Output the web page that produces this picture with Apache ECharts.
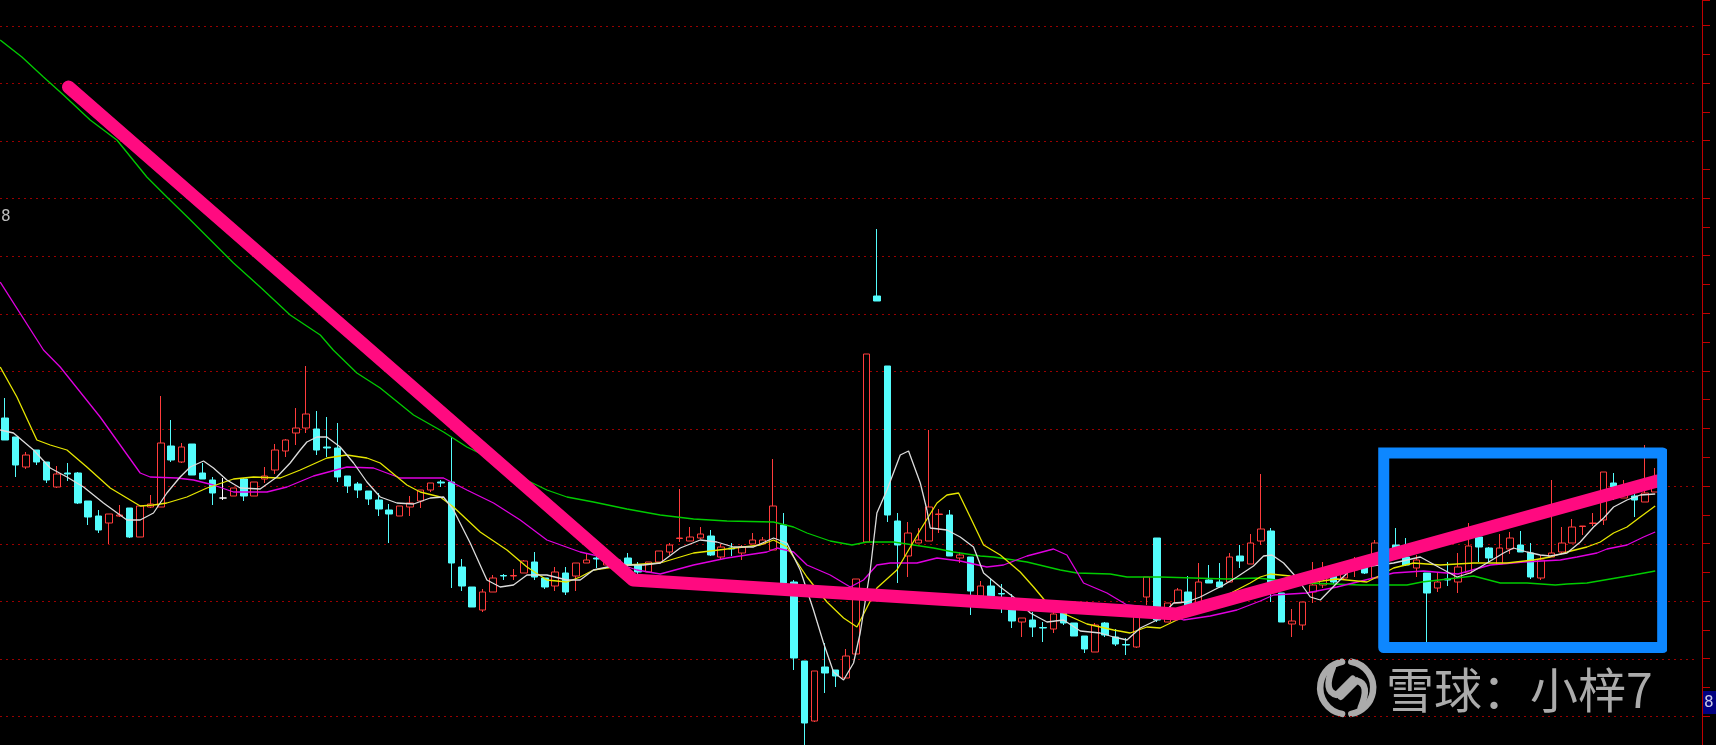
<!DOCTYPE html>
<html><head><meta charset="utf-8">
<script src="https://cdn.jsdelivr.net/npm/echarts@6/dist/echarts.min.js"></script>
<style>html,body{margin:0;padding:0;background:#000;overflow:hidden;}#c{width:1716px;height:745px;}</style>
</head><body><div id="c"></div>
<script>
// [open, close, low, high]
const candles = [
[7.82,7.60,7.60,8.02],[7.63,7.35,7.23,7.63],[7.33,7.45,7.31,7.48],[7.50,7.38,7.35,7.50],[7.38,7.20,7.17,7.38],
[7.13,7.26,7.12,7.34],[7.27,7.26,7.19,7.37],[7.27,6.97,6.96,7.28],[6.99,6.83,6.75,6.99],[6.84,6.70,6.67,6.90],
[6.77,6.86,6.56,6.86],[6.84,6.85,6.83,6.95],[6.92,6.63,6.62,6.92],[6.63,6.94,6.63,6.94],[6.93,6.96,6.92,7.05],
[6.93,7.57,6.93,8.04],[7.54,7.40,7.38,7.80],[7.38,7.53,7.37,7.57],[7.56,7.25,7.25,7.56],[7.27,7.21,7.21,7.37],
[7.20,7.07,6.95,7.23],[7.02,7.02,7.00,7.22],[7.04,7.12,7.04,7.12],[7.21,7.04,6.99,7.22],[7.04,7.18,7.04,7.18],
[7.21,7.24,7.17,7.33],[7.30,7.50,7.26,7.56],[7.49,7.60,7.43,7.61],[7.67,7.72,7.55,7.92],[7.72,7.86,7.67,8.34],
[7.71,7.50,7.45,7.89],[7.53,7.52,7.43,7.83],[7.52,7.23,7.18,7.77],[7.24,7.14,7.07,7.24],[7.16,7.10,7.02,7.18],
[7.09,7.01,6.95,7.09],[7.00,6.91,6.84,7.07],[6.90,6.86,6.57,6.96],[6.84,6.94,6.84,6.94],[6.93,6.97,6.84,7.04],
[6.99,7.10,6.92,7.10],[7.10,7.17,7.08,7.17],[7.18,7.17,7.13,7.20],[7.18,6.37,6.12,7.63],[6.33,6.14,6.09,6.41],
[6.13,5.93,5.93,6.13],[5.90,6.08,5.88,6.11],[6.08,6.22,6.08,6.25],[6.245,6.24,6.20,6.26],[6.24,6.245,6.20,6.31],
[6.27,6.39,6.27,6.40],[6.38,6.23,6.20,6.48],[6.22,6.13,6.11,6.22],[6.14,6.28,6.09,6.33],[6.27,6.08,6.05,6.33],
[6.24,6.37,6.09,6.37],[6.37,6.40,6.37,6.46],[6.42,6.41,6.32,6.47],[6.35,6.42,6.35,6.42],[6.40,6.35,6.33,6.42],
[6.42,6.35,6.33,6.47],[6.35,6.28,6.26,6.38],[6.28,6.38,6.28,6.38],[6.38,6.49,6.38,6.49],[6.48,6.55,6.45,6.57],
[6.615,6.62,6.58,7.11],[6.59,6.63,6.59,6.73],[6.62,6.66,6.61,6.73],[6.64,6.45,6.44,6.70],[6.43,6.53,6.40,6.56],
[6.52,6.51,6.44,6.57],[6.47,6.53,6.40,6.55],[6.56,6.60,6.56,6.67],[6.56,6.60,6.55,6.63],[6.50,6.94,6.50,7.41],
[6.75,6.17,6.10,6.87],[6.18,5.42,5.30,6.20],[5.39,4.77,4.54,5.39],[4.79,5.29,4.78,5.29],[5.33,5.27,5.07,5.57],
[5.30,5.24,5.13,5.30],[5.22,5.44,5.22,5.51],[5.46,6.21,5.46,6.21],[6.58,8.46,6.58,8.46],[9.04,8.99,8.99,9.71],
[8.34,6.85,6.78,8.34],[6.79,6.55,6.17,6.87],[6.44,6.67,6.23,6.78],[6.57,6.60,6.57,6.72],[6.59,6.93,6.59,7.70],
[6.855,6.86,6.67,6.91],[6.85,6.44,6.44,6.90],[6.42,6.45,6.37,6.48],[6.43,6.09,5.85,6.43],[6.04,6.14,6.04,6.19],
[6.14,6.04,6.04,6.22],[6.065,6.06,5.87,6.16],[5.91,5.79,5.72,6.06],[5.78,5.82,5.63,5.82],[5.80,5.73,5.63,5.88],
[5.725,5.72,5.58,5.78],[5.71,5.86,5.67,5.88],[5.87,5.77,5.75,5.88],[5.77,5.64,5.64,5.77],[5.64,5.51,5.47,5.64],
[5.48,5.75,5.48,5.77],[5.77,5.65,5.63,5.78],[5.63,5.56,5.54,5.71],[5.555,5.55,5.45,5.62],[5.53,5.85,5.52,5.85],
[6.03,6.23,5.95,6.23],[6.62,5.80,5.78,6.62],[5.78,5.97,5.78,5.97],[5.97,6.10,5.97,6.12],[6.08,5.93,5.92,6.24],
[5.95,6.18,5.95,6.37],[6.20,6.17,6.17,6.35],[6.18,6.13,6.12,6.37],[6.18,6.43,6.18,6.47],[6.44,6.39,6.32,6.55],
[6.36,6.57,6.36,6.66],[6.59,6.71,6.55,7.26],[6.69,6.17,5.98,6.72],[6.07,5.78,5.78,6.07],[5.76,5.79,5.63,5.91],
[5.75,5.98,5.70,5.98],[6.08,6.15,5.97,6.38],[6.15,6.22,6.12,6.38],[6.24,6.18,6.16,6.26],[6.22,6.30,6.20,6.32],
[6.30,6.38,6.23,6.43],[6.33,6.27,6.26,6.43],[6.22,6.57,6.22,6.60],[6.52,6.60,6.50,6.64],[6.55,6.47,6.44,6.72],
[6.43,6.35,6.34,6.62],[6.32,6.40,6.23,6.45],[6.27,6.07,5.58,6.27],[6.12,6.18,6.08,6.27],[6.21,6.20,6.14,6.38],
[6.18,6.33,6.07,6.47],[6.27,6.54,6.27,6.77],[6.63,6.53,6.38,6.63],[6.52,6.42,6.37,6.53],[6.36,6.52,6.36,6.66],
[6.51,6.62,6.46,6.68],[6.55,6.48,6.48,6.69],[6.47,6.23,6.21,6.57],[6.22,6.40,6.20,6.45],[6.43,6.47,6.43,7.20],
[6.48,6.57,6.47,6.73],[6.57,6.73,6.57,6.81],[6.735,6.74,6.65,6.74],[6.765,6.77,6.74,6.87],[6.80,7.28,6.75,7.28],
[7.17,7.13,7.00,7.27],[7.02,7.07,7.02,7.20],[7.04,7.00,6.83,7.19],[6.98,7.07,6.98,7.55],[7.08,7.13,7.08,7.32]
];
const categories = candles.map((_, i) => 'D' + (i + 1));

// moving-average lines: [bar position, price]
const maWhite = [[-0.48,7.70],[0.8,7.67],[2.73,7.50],[4.34,7.32],[5.95,7.23],[7.55,7.13],[9.47,6.97],[11.73,6.80],[13.01,6.80],[14.29,6.87],[15.58,7.07],[16.86,7.23],[17.83,7.33],[19.11,7.39],[20.07,7.32],[21.36,7.20],[22.65,7.12],[24.57,7.11],[26.18,7.23],[27.46,7.37],[28.43,7.50],[29.07,7.58],[30.04,7.63],[31.0,7.63],[32.28,7.53],[33.57,7.37],[34.86,7.18],[36.14,7.03],[37.75,6.97],[39.35,6.96],[40.96,7.02],[42.24,7.03],[43.2,6.90],[44.81,6.57],[46.42,6.20],[47.7,6.13],[48.98,6.15],[50.28,6.25],[52.2,6.25],[54.13,6.20],[55.41,6.20],[56.69,6.30],[58.95,6.35],[61.51,6.35],[63.12,6.37],[65.05,6.52],[66.98,6.60],[68.58,6.58],[70.18,6.53],[72.11,6.53],[74.04,6.62],[75.33,6.57],[76.61,6.30],[77.89,5.90],[78.86,5.57],[79.82,5.28],[80.79,5.20],[81.75,5.37],[82.39,5.67],[83.36,6.30],[84.0,6.87],[84.97,7.10],[86.25,7.45],[87.05,7.49],[88.18,7.17],[88.82,6.90],[89.14,6.72],[90.75,6.70],[92.03,6.63],[93.31,6.53],[94.28,6.27],[95.89,6.13],[97.17,6.03],[98.78,5.87],[100.39,5.78],[101.98,5.80],[103.6,5.69],[105.52,5.67],[106.81,5.63],[108.1,5.60],[109.38,5.72],[110.99,5.80],[112.59,5.97],[113.87,5.98],[115.16,6.03],[117.41,6.15],[118.69,6.23],[120.29,6.34],[121.26,6.44],[122.07,6.45],[123.19,6.37],[124.48,6.22],[125.76,6.03],[126.73,6.00],[128.33,6.17],[129.62,6.30],[130.9,6.33],[133.79,6.37],[136.36,6.43],[138.29,6.32],[139.9,6.23],[141.18,6.27],[142.79,6.37],[144.39,6.47],[145.35,6.52],[146.64,6.48],[147.92,6.45],[148.89,6.44],[150.5,6.47],[151.78,6.58],[153.06,6.73],[154.03,6.82],[154.99,6.93],[156.28,7.00],[157.56,7.05],[159.0,7.06]];

const maYellow = [[-0.48,8.33],[1.13,8.03],[3.05,7.60],[4.34,7.55],[5.95,7.50],[7.87,7.33],[10.12,7.12],[13.01,6.94],[14.29,6.95],[15.58,6.97],[17.51,7.03],[19.44,7.12],[22.0,7.21],[23.93,7.23],[26.5,7.22],[28.43,7.30],[31.0,7.42],[32.93,7.45],[34.86,7.42],[36.14,7.37],[38.71,7.15],[39.99,7.08],[41.92,7.03],[43.2,6.93],[45.77,6.68],[48.35,6.50],[50.28,6.33],[52.2,6.20],[54.13,6.18],[55.41,6.23],[56.69,6.30],[59.91,6.35],[63.12,6.37],[66.33,6.47],[69.55,6.51],[72.76,6.55],[74.04,6.60],[75.33,6.53],[77.26,6.23],[79.19,5.98],[80.79,5.82],[82.08,5.73],[84.0,6.12],[85.93,6.30],[88.18,6.70],[89.79,6.97],[90.75,7.05],[91.87,7.07],[92.99,6.83],[94.28,6.55],[95.89,6.45],[97.81,6.28],[99.1,6.13],[100.39,5.97],[102.31,5.85],[104.24,5.76],[106.81,5.70],[108.41,5.67],[110.02,5.73],[111.3,5.72],[112.91,5.80],[115.16,5.90],[117.73,6.05],[119.97,6.17],[120.94,6.23],[121.9,6.26],[123.83,6.24],[125.44,6.17],[128.33,6.21],[131.22,6.18],[132.19,6.23],[133.79,6.32],[135.72,6.37],[138.29,6.35],[141.5,6.37],[144.72,6.37],[147.28,6.40],[148.89,6.43],[150.5,6.48],[152.42,6.53],[153.71,6.58],[154.99,6.67],[156.28,6.73],[157.56,6.83],[159.0,6.94]];

const maMagenta = [[-0.48,9.18],[3.69,8.50],[5.3,8.33],[9.15,7.83],[13.01,7.27],[13.97,7.23],[16.55,7.22],[18.15,7.20],[20.07,7.15],[22.0,7.08],[25.22,7.08],[27.15,7.13],[29.71,7.24],[32.93,7.33],[35.49,7.32],[38.06,7.22],[42.24,7.22],[44.49,7.10],[47.06,6.97],[49.63,6.80],[52.2,6.60],[55.41,6.48],[56.69,6.45],[60.87,6.30],[63.12,6.26],[66.33,6.35],[69.55,6.42],[73.4,6.48],[74.37,6.52],[75.97,6.48],[77.26,6.35],[79.5,6.25],[81.43,6.13],[82.71,6.20],[84.0,6.35],[85.29,6.37],[87.86,6.37],[89.79,6.42],[92.03,6.39],[94.6,6.33],[96.2,6.35],[98.46,6.44],[101.02,6.51],[102.31,6.45],[103.91,6.17],[106.17,6.07],[108.1,5.95],[110.02,5.93],[113.55,5.80],[116.12,5.84],[118.69,5.90],[120.94,5.99],[122.23,6.05],[125.44,6.07],[128.33,6.13],[131.86,6.22],[133.79,6.27],[136.68,6.29],[140.0,6.26],[143.11,6.35],[146.32,6.38],[149.85,6.40],[151.46,6.43],[153.39,6.47],[154.35,6.51],[156.28,6.55],[157.88,6.63],[159.0,6.68]];

const maGreen = [[-0.48,11.60],[1.61,11.43],[3.69,11.23],[5.62,11.05],[8.19,10.80],[10.76,10.60],[13.65,10.23],[15.58,10.03],[17.66,9.82],[19.59,9.62],[22.0,9.37],[24.57,9.13],[27.46,8.85],[30.36,8.65],[31.61,8.50],[33.89,8.27],[36.14,8.12],[39.35,7.85],[42.24,7.68],[44.49,7.53],[47.06,7.40],[49.63,7.23],[52.2,7.10],[54.13,7.03],[56.69,6.98],[59.91,6.91],[63.12,6.85],[66.33,6.81],[69.55,6.79],[74.04,6.78],[75.97,6.73],[77.26,6.67],[79.5,6.59],[81.6,6.55],[83.04,6.58],[85.6,6.58],[87.53,6.55],[89.46,6.52],[91.38,6.48],[93.96,6.44],[95.24,6.43],[98.46,6.38],[101.67,6.30],[103.28,6.27],[106.49,6.26],[108.1,6.23],[111.3,6.23],[114.51,6.22],[117.73,6.21],[120.62,6.22],[125.44,6.17],[130.58,6.15],[135.08,6.15],[136.52,6.18],[141.5,6.24],[144.07,6.17],[146.64,6.17],[149.37,6.15],[150.5,6.16],[152.42,6.17],[154.67,6.21],[156.91,6.25],[159.0,6.29]];

// hand-drawn annotations (bar position, price)
const trendLine = [[6.1,11.13],[60.52,6.20],[112.85,5.86],[159.2,7.19]];
const highlightBox = [[132.84,7.47],[159.72,7.47],[159.72,5.525],[132.84,5.525],[132.84,7.47]];

// price axis set-up: dotted grid lines every gridStep, right-hand ticks every tickStep
const gridMin = 4.833, gridMax = 11.74, gridStep = 0.5756;
const axisMin = 4.55, axisMax = 12.0, tickStep = 0.2878;

const chart = echarts.init(document.getElementById('c'), null, {renderer: 'canvas'});
const maLine = (data, color, w) => ({
  type: 'line', xAxisIndex: 1, yAxisIndex: 0, data, symbol: 'none', showSymbol: false, clip: false,
  lineStyle: {color, width: w}, z: 3, silent: true
});
const logoStroke = {fill: null, stroke: '#ABABAB', lineWidth: 6.5, lineCap: 'round'};
const D = Math.PI / 180;
const hiddenY = {axisLine: {show: false, onZero: false}, axisTick: {show: false}, axisLabel: {show: false}};
chart.setOption({
  backgroundColor: '#000000',
  animation: false,
  grid: [
    {left: 0, right: 55.6, top: 26, bottom: 28.3},
    {left: 0, right: 19, top: 26, bottom: 28.3},
    {left: 0, right: 14, top: 0, bottom: 0}
  ],
  xAxis: [
    {type: 'category', gridIndex: 0, data: categories, show: false, boundaryGap: true},
    {type: 'value', gridIndex: 0, min: -0.5, max: candles.length - 0.5, show: false},
    {type: 'value', gridIndex: 1, min: 0, max: 1, show: false},
    {type: 'value', gridIndex: 2, min: 0, max: 1, show: false}
  ],
  yAxis: [
    Object.assign({type: 'value', gridIndex: 0, min: gridMin, max: gridMax, splitLine: {show: false}}, hiddenY),
    Object.assign({type: 'value', gridIndex: 1, min: gridMin, max: gridMax, interval: gridStep,
     splitLine: {show: true, lineStyle: {color: '#9A0000', width: 1, type: [2, 4]}}}, hiddenY),
    {type: 'value', gridIndex: 2, min: axisMin, max: axisMax, interval: tickStep, position: 'right',
     axisLine: {show: true, onZero: false, lineStyle: {color: '#C00000', width: 1}},
     axisTick: {show: true, length: 8, inside: false, lineStyle: {color: '#C00000'}},
     axisLabel: {show: false}, splitLine: {show: false}}
  ],
  series: [
    {type: 'candlestick', xAxisIndex: 0, yAxisIndex: 0, data: candles, barWidth: 7, z: 2, silent: true, clip: false,
     itemStyle: {color: '#000000', color0: '#54FCFC', borderColor: '#FF3C3C', borderColor0: '#54FCFC',
                 borderColorDoji: '#FFFFFF', borderWidth: 1}},
    maLine(maGreen, '#00CC00', 1.3),
    maLine(maMagenta, '#E000E0', 1.3),
    maLine(maYellow, '#E6E600', 1.3),
    maLine(maWhite, '#DCDCDC', 1.3),
    {type: 'line', xAxisIndex: 1, yAxisIndex: 0, data: trendLine, symbol: 'none', z: 5, silent: true, clip: false,
     lineStyle: {color: '#FF0A80', width: 13, cap: 'round', join: 'round'}},
    {type: 'line', xAxisIndex: 1, yAxisIndex: 0, data: highlightBox, symbol: 'none', z: 6, silent: true, clip: false,
     lineStyle: {color: '#0D87FF', width: 11, cap: 'square', join: 'round'}}
  ],
  graphic: [
    {type: 'text', x: 1, y: 217, z: 100, style: {text: '8', fill: '#BDBDBD', fontSize: 16, fontFamily: 'DejaVu Sans Mono', verticalAlign: 'middle'}},
    {type: 'rect', z: 100, shape: {x: 1703, y: 691, width: 13, height: 23}, style: {fill: '#000080'}},
    {type: 'text', x: 1704, y: 702.5, z: 101, style: {text: '8.', fill: '#C8C8E8', fontSize: 16, fontFamily: 'DejaVu Sans Mono', verticalAlign: 'middle'}},
    {type: 'group', x: 1346.7, y: 687.8, z: 100, children: [
      {type: 'arc', shape: {cx: 0, cy: 0, r: 26.5, startAngle: 100 * D, endAngle: 260 * D, clockwise: true}, style: logoStroke},
      {type: 'arc', shape: {cx: 0, cy: 0, r: 26.5, startAngle: 280 * D, endAngle: 440 * D, clockwise: true}, style: logoStroke},
      {type: 'bezierCurve', shape: {x1: -14, y1: -20, cpx1: -24, cpy1: 4, x2: -10, y2: 7}, style: logoStroke},
      {type: 'line', shape: {x1: -10, y1: 7, x2: 6, y2: -9}, style: logoStroke},
      {type: 'bezierCurve', shape: {x1: 14, y1: 20, cpx1: 24, cpy1: -4, x2: 10, y2: -7}, style: logoStroke},
      {type: 'line', shape: {x1: 10, y1: -7, x2: -6, y2: 9}, style: logoStroke}
    ]},
    {type: 'text', x: 1386, y: 689.5, z: 100, style: {text: '雪球：小梓7', fill: '#ABABAB', fontSize: 48, fontFamily: 'Noto Sans CJK SC', verticalAlign: 'middle'}}
  ]
});
</script>
</body></html>
